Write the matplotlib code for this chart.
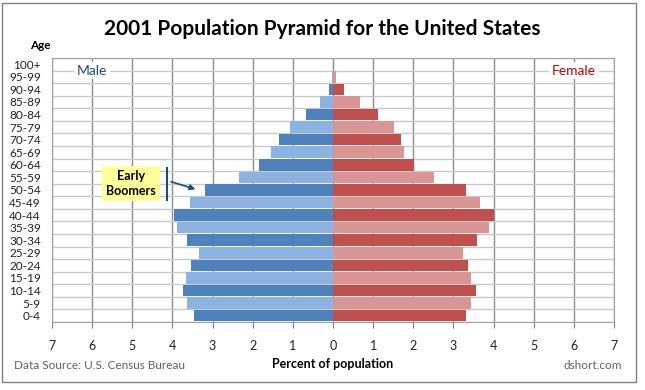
import numpy as np
import matplotlib.pyplot as plt
from matplotlib.patches import Rectangle

plt.rcParams['font.family'] = ['Lato', 'DejaVu Sans']

# Age groups, bottom to top
ages = ['0-4', '5-9', '10-14', '15-19', '20-24', '25-29', '30-34', '35-39',
        '40-44', '45-49', '50-54', '55-59', '60-64', '65-69', '70-74',
        '75-79', '80-84', '85-89', '90-94', '95-99', '100+']

# Percent of population
male = [3.46, 3.63, 3.73, 3.66, 3.54, 3.34, 3.63, 3.88, 3.96, 3.56, 3.20,
        2.35, 1.84, 1.54, 1.35, 1.08, 0.66, 0.32, 0.09, 0.02, 0.0]
female = [3.32, 3.45, 3.57, 3.45, 3.37, 3.25, 3.60, 3.89, 4.02, 3.67, 3.32,
          2.52, 2.03, 1.78, 1.70, 1.53, 1.11, 0.67, 0.28, 0.08, 0.01]

xticks = list(range(-7, 8))

male_cols = ['#4F81BD', '#8DB3E2']
female_cols = ['#C0504D', '#D99694']

fig = plt.figure(figsize=(6.45, 3.9), dpi=100)
ax = fig.add_axes([0.0806, 0.1744, 0.8713, 0.677])

y = np.arange(len(ages))
mc = [male_cols[i % 2] for i in y]
fc = [female_cols[i % 2] for i in y]
ax.barh(y, -np.array(male), height=0.92, color=mc, zorder=3)
ax.barh(y, female, height=0.92, color=fc, zorder=3)

ax.set_xlim(-7, 7)
ax.set_ylim(-0.5, len(ages) - 0.5)
ax.set_xticks(xticks)
ax.set_xticklabels([str(abs(v)) for v in xticks], fontsize=9, color='#222222')
ax.set_yticks(y)
ax.set_yticklabels(ages, fontsize=8.5, color='#222222')
ax.tick_params(axis='y', length=0, pad=8)
ax.tick_params(axis='x', length=4, direction='out', color='#808080', pad=9)

# grid: vertical at each integer, horizontal at row boundaries
for v in xticks:
    ax.axvline(v, color='#8c8c8c', lw=1, zorder=1)
for b in np.arange(-0.5, len(ages), 1):
    ax.axhline(b, color='#c8c8c8', lw=1, zorder=1)
for s in ax.spines.values():
    s.set_color('#a0a0a0')

ax.set_xlabel('Percent of population', fontsize=9, fontweight='bold', labelpad=4)

ax.text(-6.0, 19.5, 'Male', color='#1F497D', fontsize=10, ha='center', va='center',
        bbox=dict(facecolor='white', edgecolor='none', pad=2), zorder=4)
ax.text(6.0, 19.5, 'Female', color='#C00000', fontsize=10, ha='center', va='center',
        bbox=dict(facecolor='white', edgecolor='none', pad=2), zorder=4)

# annotation for early boomers
ax.text(-5.03, 10.5, 'Early\nBoomers', fontsize=9, fontweight='bold', ha='center',
        va='center', linespacing=1.25,
        bbox=dict(facecolor='#FFFF99', edgecolor='none', pad=3), zorder=5)
ax.plot([-4.14, -4.14], [9.2, 11.75], color='#1F497D', lw=1.5, zorder=5)
ax.annotate('', xy=(-3.36, 10.0), xytext=(-4.1, 10.72),
            arrowprops=dict(arrowstyle='-|>', color='#1F497D', lw=1.2,
                            mutation_scale=8), zorder=5)

fig.text(0.5, 0.925, '2001 Population Pyramid for the United States',
         fontsize=15, fontweight='bold', ha='center', va='center')
fig.text(0.062, 0.884, 'Age', fontsize=8.5, fontweight='bold', ha='center', va='center')
fig.text(0.022, 0.062, 'Data Source: U.S. Census Bureau', fontsize=8.5,
         color='#606060', ha='left', va='center')
fig.text(0.964, 0.062, 'dshort.com', fontsize=8.5, color='#606060',
         ha='right', va='center')

fig.patches.append(Rectangle((0.003, 0.02), 0.983, 0.972, transform=fig.transFigure,
                             fill=False, edgecolor='#808080', lw=1))

fig.savefig('out.png', dpi=100)
